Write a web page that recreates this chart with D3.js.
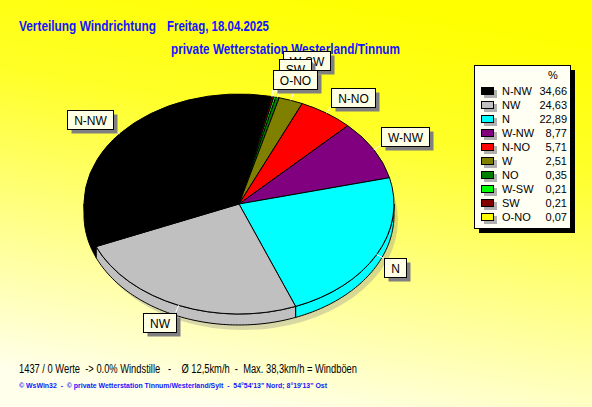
<!DOCTYPE html>
<html><head><meta charset="utf-8">
<script src="https://cdn.jsdelivr.net/npm/d3@7"></script>
<style>body{margin:0;background:#fff;} svg{display:block;}</style>
</head><body><svg id="c" width="592" height="407"></svg>
<script>
// ---- data ----
const categories = ["N-NW","NW","N","W-NW","N-NO","W","NO","W-SW","SW","O-NO"];
const values = [34.66,24.63,22.89,8.77,5.71,2.51,0.35,0.21,0.21,0.07];
const valueLabels = ["34,66","24,63","22,89","8,77","5,71","2,51","0,35","0,21","0,21","0,07"];
const colors = ["#000000","#c0c0c0","#00ffff","#800080","#ff0000","#808000","#008000","#00ff00","#800000","#ffff00"];
const titleLeft = "Verteilung Windrichtung";
const titleRight = "Freitag, 18.04.2025";
const subtitle = "private Wetterstation Westerland/Tinnum";
const footer1 = "1437 / 0 Werte  -> 0.0% Windstille   -    Ø 12,5km/h  -  Max. 38,3km/h = Windböen";
const footer2 = "© WsWin32  -  © private Wetterstation Tinnum/Westerland/Sylt  -  54°54'13\" Nord; 8°19'13\" Ost";
const legendHeader = "%";

// ---- layout ----
const svg = d3.select("#c");
const W = 592, H = 407;
const defs = svg.append("defs");
const grad = defs.append("linearGradient").attr("id","bg")
  .attr("x1","0.62").attr("y1","0").attr("x2","0.38").attr("y2","1");
grad.append("stop").attr("offset","0").attr("stop-color","#ffff00");
grad.append("stop").attr("offset","0.3").attr("stop-color","#ffff28");
grad.append("stop").attr("offset","1").attr("stop-color","#ffffec");
svg.append("rect").attr("width",W).attr("height",H).attr("fill","url(#bg)");

const blue = "#1414ff";
const narrow = "'Liberation Sans Narrow','Arial Narrow','Liberation Sans',Arial,sans-serif";
const sans = "'Liberation Sans',Arial,sans-serif";
function txt(s, x, y, size, weight, color, len, fam) {
  const t = svg.append("text").attr("x",x).attr("y",y).text(s)
    .attr("font-family", fam || sans).attr("font-size", size).attr("font-weight", weight)
    .attr("fill", color).style("white-space","pre");
  if (len) t.attr("textLength", len).attr("lengthAdjust","spacingAndGlyphs");
  return t;
}
txt(titleLeft, 19, 31, 15, "bold", blue, 137, narrow);
txt(titleRight, 167, 31, 15, "bold", blue, 102, narrow);
txt(subtitle, 171, 54, 15, "bold", blue, 229, narrow);
txt(footer1, 19, 373, 12, "normal", "#000", 338);
txt(footer2, 19, 388, 8, "bold", blue, 308);

// ---- pie ----
const cx = 239, cy = 204, rx = 155, ry = 110, depth = 11;
const start = 12 * Math.PI / 180;
const data = categories.map((c,i)=>({c, v:values[i], col:colors[i]})).reverse();
const pie = d3.pie().sort(null).value(d=>d.v).startAngle(start).endAngle(start + 2*Math.PI);
const arcs = pie(data);
const P = (a, dy=0) => [cx + rx*Math.sin(a), cy - ry*Math.cos(a) + dy];

// shadow
svg.append("ellipse").attr("cx",cx+4).attr("cy",cy+depth+5).attr("rx",rx).attr("ry",ry)
  .attr("fill","#909090").attr("opacity",0.35);

// side walls (front half: angle between 90° and 270°)
const lo = Math.PI/2, hi = 3*Math.PI/2;
const gSide = svg.append("g");
arcs.forEach(a => {
  const a0 = Math.max(a.startAngle, lo), a1 = Math.min(a.endAngle, hi);
  if (a1 <= a0) return;
  const n = Math.max(2, Math.ceil((a1-a0)/0.02));
  const pts = d3.range(n+1).map(k => P(a0 + (a1-a0)*k/n));
  const bot = d3.range(n+1).map(k => P(a1 - (a1-a0)*k/n, depth));
  gSide.append("path").attr("d", d3.line()(pts.concat(bot)) + "Z")
    .attr("fill", a.data.col).attr("stroke","#000").attr("stroke-width",1);
});

// top surface
const arcGen = d3.arc().innerRadius(0).outerRadius(rx);
const gTop = svg.append("g").attr("transform", `translate(${cx},${cy}) scale(1,${ry/rx})`);
gTop.selectAll("path").data(arcs).join("path")
  .attr("d", arcGen).attr("fill", d=>d.data.col)
  .attr("stroke","#000").attr("stroke-width",1).attr("vector-effect","non-scaling-stroke");

// ---- slice labels ----
const hiddenLabels = new Set(["W","NO"]);
const nudge = {"SW":[4,-11], "W-SW":[6,-19]};
const drawOrder = categories.slice(); // legend order; later on top
const gLab = svg.append("g");
const info = {};
arcs.forEach(a => {
  const m = (a.startAngle + a.endAngle)/2;
  const s = Math.sin(m), c = -Math.cos(m);
  const anc = P(m);
  const end = [anc[0] + 8*s, anc[1] + 8*c];
  info[a.data.c] = {anc, end, s, c};
});
// leader lines
categories.forEach(cat => {
  const o = info[cat];
  gLab.append("line").attr("x1",o.anc[0]).attr("y1",o.anc[1]).attr("x2",o.end[0]).attr("y2",o.end[1])
    .attr("stroke","#fff").attr("stroke-width",1);
});
drawOrder.forEach(cat => {
  if (hiddenLabels.has(cat)) return;
  const o = info[cat];
  const g = gLab.append("g");
  const t = g.append("text").text(cat).attr("font-family",sans).attr("font-size",12).attr("fill","#000");
  const tw = t.node().getComputedTextLength();
  const w = Math.round(tw + 13), h = 19;
  let x = o.s >= 0 ? o.end[0] : o.end[0] - w;
  let y = o.c < 0 ? o.end[1] - h : o.end[1];
  if (nudge[cat]) { x += nudge[cat][0]; y += nudge[cat][1]; }
  x = Math.round(x) + 0.5; y = Math.round(y) + 0.5;
  g.insert("rect","text").attr("x",x+4).attr("y",y+4).attr("width",w).attr("height",h).attr("fill","#808080");
  g.insert("rect","text").attr("x",x).attr("y",y).attr("width",w).attr("height",h)
    .attr("fill","#ffffe6").attr("stroke","#000").attr("stroke-width",1);
  t.attr("x", x + w/2).attr("y", y + 14).attr("text-anchor","middle");
});

// ---- legend ----
const lx = 474, ly = 65, lw = 96, lh = 163;
const gL = svg.append("g");
gL.append("rect").attr("x",lx+5).attr("y",ly+5).attr("width",lw).attr("height",lh).attr("fill","#000");
gL.append("rect").attr("x",lx+0.5).attr("y",ly+0.5).attr("width",lw).attr("height",lh)
  .attr("fill","#fffff4").attr("stroke","#000").attr("stroke-width",1);
gL.append("text").attr("x",553).attr("y",79).attr("text-anchor","middle")
  .attr("font-family",sans).attr("font-size",11).text(legendHeader);
const rowY = d3.scaleBand().domain(categories).range([84, 84 + 14*categories.length]);
categories.forEach((cat,i) => {
  const yc = rowY(cat) + 7;
  gL.append("rect").attr("x",484).attr("y",yc-1).attr("width",13).attr("height",8).attr("fill","#b0b0b0");
  gL.append("rect").attr("x",481.5).attr("y",yc-3.5).attr("width",12).attr("height",7)
    .attr("fill",colors[i]).attr("stroke","#000").attr("stroke-width",1);
  gL.append("text").attr("x",502).attr("y",yc+4).attr("font-family",sans).attr("font-size",11).text(cat);
  gL.append("text").attr("x",567).attr("y",yc+4).attr("text-anchor","end")
    .attr("font-family",sans).attr("font-size",11).text(valueLabels[i]);
});
</script></body></html>
